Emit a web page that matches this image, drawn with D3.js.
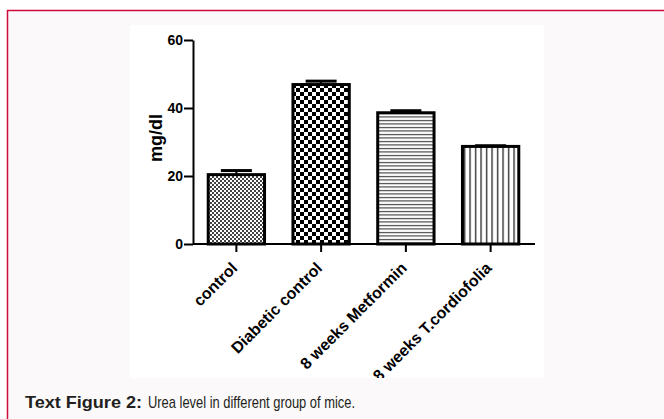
<!DOCTYPE html>
<html>
<head>
<meta charset="utf-8">
<script src="https://cdn.jsdelivr.net/npm/d3@7"></script>
<style>
  html, body { margin: 0; padding: 0; background: #ffffff; }
  svg { display: block; }
  text { font-family: "Liberation Sans", Arial, sans-serif; }
</style>
</head>
<body>
<script>
// Urea level (mg/dl) per treatment group
const categories = ["control", "Diabetic control", "8 weeks Metformin", "8 weeks T.cordiofolia"];
const means = [20.4, 46.9, 38.6, 28.7];
const errors = [1.2, 1.0, 0.6, 0.2];
const yTicks = [0, 20, 40, 60];
const patterns = ["fineCheck", "bigCheck", "hLines", "vLines"];

const W = 664, H = 419;
const svg = d3.select("body").append("svg").attr("width", W).attr("height", H);
const defs = svg.append("defs");

// fine checkerboard
const p1 = defs.append("pattern").attr("id", "fineCheck").attr("patternUnits", "userSpaceOnUse")
  .attr("width", 4).attr("height", 4);
p1.append("rect").attr("width", 4).attr("height", 4).attr("fill", "#fff");
p1.append("rect").attr("width", 2).attr("height", 2).attr("fill", "#444");
p1.append("rect").attr("x", 2).attr("y", 2).attr("width", 2).attr("height", 2).attr("fill", "#444");

// coarse checkerboard
const p2 = defs.append("pattern").attr("id", "bigCheck").attr("patternUnits", "userSpaceOnUse")
  .attr("width", 8).attr("height", 8);
p2.append("rect").attr("width", 8).attr("height", 8).attr("fill", "#fff");
p2.append("rect").attr("width", 4).attr("height", 4).attr("fill", "#000");
p2.append("rect").attr("x", 4).attr("y", 4).attr("width", 4).attr("height", 4).attr("fill", "#000");

// horizontal hatching
const p3 = defs.append("pattern").attr("id", "hLines").attr("patternUnits", "userSpaceOnUse")
  .attr("width", 8).attr("height", 3.5);
p3.append("rect").attr("width", 8).attr("height", 3.5).attr("fill", "#fff");
p3.append("rect").attr("y", 1).attr("width", 8).attr("height", 1).attr("fill", "#222");

// vertical hatching
const p4 = defs.append("pattern").attr("id", "vLines").attr("patternUnits", "userSpaceOnUse")
  .attr("width", 5.5).attr("height", 8);
p4.append("rect").attr("width", 5.5).attr("height", 8).attr("fill", "#fff");
p4.append("rect").attr("x", 2).attr("width", 1.2).attr("height", 8).attr("fill", "#111");

// outer figure frame
svg.append("rect").attr("x", 7.5).attr("y", 10.5).attr("width", 700).attr("height", 450)
  .attr("fill", "#fbf9fa").attr("stroke", "#cf0a3c").attr("stroke-width", 1.5);
// white chart panel
svg.append("rect").attr("x", 130).attr("y", 25).attr("width", 414).attr("height", 353).attr("fill", "#fff");
defs.append("clipPath").attr("id", "panelClip")
  .append("rect").attr("x", 130).attr("y", 25).attr("width", 414).attr("height", 353);

const chart = svg.append("g").attr("clip-path", "url(#panelClip)");

const x = d3.scaleBand().domain(categories).range([194, 533]).paddingInner(0.3).paddingOuter(0.15);
const y = d3.scaleLinear().domain([0, 60]).range([244, 40]);

// bars
const bw = x.bandwidth();
chart.append("g").selectAll("rect").data(categories).join("rect")
  .attr("x", d => x(d) + 1.5)
  .attr("y", (d, i) => y(means[i]))
  .attr("width", bw - 3)
  .attr("height", (d, i) => y(0) - y(means[i]))
  .attr("fill", (d, i) => `url(#${patterns[i]})`)
  .attr("stroke", "#000").attr("stroke-width", 3);

// error bars (upper only)
const eb = chart.append("g").attr("stroke", "#000");
categories.forEach((c, i) => {
  const cx = x(c) + bw / 2;
  const top = y(means[i] + errors[i]);
  eb.append("line").attr("x1", cx).attr("x2", cx).attr("y1", y(means[i])).attr("y2", top).attr("stroke-width", 2);
  eb.append("line").attr("x1", cx - 15.5).attr("x2", cx + 15.5).attr("y1", top).attr("y2", top).attr("stroke-width", 3);
});

// y axis
const yAxis = chart.append("g").attr("transform", "translate(193,0)")
  .call(d3.axisLeft(y).tickValues(yTicks).tickSize(9).tickSizeOuter(0).tickPadding(1));
yAxis.select(".domain").attr("stroke-width", 2).attr("stroke", "#000");
yAxis.selectAll(".tick line").attr("stroke-width", 2).attr("stroke", "#000");
yAxis.selectAll(".tick text").attr("font-size", 14).attr("font-weight", "bold").attr("fill", "#000")
  .attr("font-family", "'Liberation Sans', Arial, sans-serif");

// x axis
const xAxis = chart.append("g").attr("transform", "translate(0,244)")
  .call(d3.axisBottom(x).tickSize(8).tickSizeOuter(0));
xAxis.select(".domain").attr("d", "M193,0H535").attr("stroke-width", 2).attr("stroke", "#000");
xAxis.selectAll(".tick line").attr("stroke-width", 2).attr("stroke", "#000");
xAxis.selectAll(".tick text")
  .attr("font-size", 16).attr("font-weight", "bold").attr("fill", "#000")
  .attr("font-family", "'Liberation Sans', Arial, sans-serif")
  .attr("text-anchor", "end")
  .attr("y", 0)
  .attr("dy", "0")
  .attr("transform", "translate(2,25) rotate(-45)");

// y axis title
chart.append("text").attr("transform", "translate(162,138) rotate(-90)")
  .attr("text-anchor", "middle").attr("font-size", 18).attr("font-weight", "bold")
  .text("mg/dl");

// caption
svg.append("text").attr("x", 25).attr("y", 408).attr("font-size", 17).attr("font-weight", "bold")
  .attr("fill", "#231f20").attr("textLength", 117).attr("lengthAdjust", "spacingAndGlyphs")
  .text("Text Figure 2:");
svg.append("text").attr("x", 148).attr("y", 408).attr("font-size", 17).attr("fill", "#231f20")
  .attr("textLength", 207).attr("lengthAdjust", "spacingAndGlyphs")
  .text("Urea level in different group of mice.");
</script>
</body>
</html>
